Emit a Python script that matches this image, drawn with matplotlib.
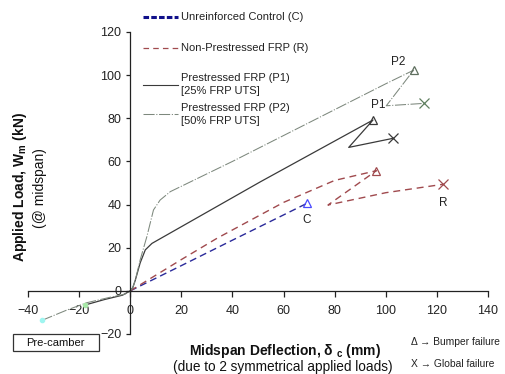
import matplotlib
matplotlib.use("Agg")
import matplotlib.pyplot as plt
from matplotlib.lines import Line2D
from matplotlib.patches import Rectangle

plt.rcParams['font.family'] = ['Liberation Sans', 'DejaVu Sans']
plt.rcParams['lines.scale_dashes'] = False

# Control beam (C)
c_x = [0, 20, 40, 60, 69.2]
c_y = [0, 11.7, 23.5, 35.2, 40.6]

# Non-prestressed FRP (R): loading to bumper failure, then to global failure
r_x = [0, 20, 34, 60, 80, 96.3, 77.4, 100, 122.4]
r_y = [0, 14.5, 24.4, 41, 51.2, 55.7, 39.8, 45.5, 49.4]

# Prestressed FRP P1 (25% UTS), starting from pre-camber
p1_x = [-17.5, -10, -3, 0, 1, 2, 3.9, 5.9, 8.5, 51, 95, 85.5, 102.8]
p1_y = [-6.5, -4, -2, 0, 1.5, 5, 13, 19, 22, 50.6, 79.2, 66.5, 70.7]

# Prestressed FRP P2 (50% UTS), starting from pre-camber
p2_x = [-34.6, -25, -17, -8, -2, 0, 1, 2, 3.9, 6.5, 9.1, 11.7, 15.7, 40, 70, 100, 110.9, 100.2, 114.8]
p2_y = [-13.7, -9, -5.5, -3, -1.5, 0, 1.5, 5, 14.4, 25.1, 37.5, 42.1, 46, 60, 78, 96, 102.3, 85.8, 86.9]

xticks = [-40, -20, 0, 20, 40, 60, 80, 100, 120, 140]
yticks = [-20, 0, 20, 40, 60, 80, 100, 120]

W, H = 506, 374
fig = plt.figure(figsize=(W / 100, H / 100), dpi=100)
ax = fig.add_axes([28 / W, 1 - 334 / H, 460 / W, 302 / H])
ax.set_xlim(-40, 140)
ax.set_ylim(-20, 120)

c_col = '#2a2a9a'
r_col = '#a04a4e'
p1_col = '#3a3a3a'
p2_col = '#7d887d'

# curves
ax.plot(c_x, c_y, color=c_col, lw=1.0, dashes=(5, 3))
ax.plot(r_x, r_y, color=r_col, lw=1.0, dashes=(5, 3.5))
ax.plot(p1_x, p1_y, color=p1_col, lw=0.9)
ax.plot(p2_x, p2_y, color=p2_col, lw=0.75, dashes=(8, 1.2, 0.8, 1.2))

# bumper failure (triangles) and global failure (crosses)
ax.plot(c_x[-1], c_y[-1], marker='^', ms=6, mfc='none', mec='#4a4aff', mew=0.9)
ax.plot(r_x[5], r_y[5], marker='^', ms=6, mfc='none', mec=r_col, mew=0.9)
ax.plot(r_x[-1], r_y[-1], marker='x', ms=7, mec=r_col, mew=0.9)
ax.plot(p1_x[10], p1_y[10], marker='^', ms=6, mfc='none', mec=p1_col, mew=0.9)
ax.plot(p1_x[-1], p1_y[-1], marker='x', ms=7, mec=p1_col, mew=0.9)
ax.plot(p2_x[16], p2_y[16], marker='^', ms=6, mfc='none', mec='#5f6f5f', mew=0.9)
ax.plot(p2_x[-1], p2_y[-1], marker='x', ms=7, mec='#5f7f5f', mew=0.9)
# pre-camber start points
ax.plot(p2_x[0], p2_y[0], marker='o', ms=3, mfc='#9ff5f0', mec='#9ff5f0')
ax.plot(p1_x[0], p1_y[0], marker='o', ms=3, mfc='#a8e8a8', mec='#a8e8a8')

# point labels
ax.text(105, 106.2, 'P2', fontsize=8.5, ha='center', va='center', color='#222222')
ax.text(99.8, 86.1, 'P1', fontsize=8.5, ha='right', va='center', color='#222222')
ax.text(69.2, 32.9, 'C', fontsize=8.5, ha='center', va='center', color='#222222')
ax.text(122.4, 40.9, 'R', fontsize=8.5, ha='center', va='center', color='#222222')

# spines through origin
for s in ['top', 'right']:
    ax.spines[s].set_visible(False)
ax.spines['left'].set_position(('data', 0))
ax.spines['bottom'].set_position(('data', 0))
for s in ['left', 'bottom']:
    ax.spines[s].set_linewidth(0.9)
    ax.spines[s].set_color('#222222')
ax.set_xticks(xticks)
ax.set_yticks(yticks)
ax.tick_params(axis='x', direction='out', length=4, width=0.9, pad=6, labelsize=9, colors='#222222')
ax.tick_params(axis='y', direction='out', length=3, width=0.9, pad=3.5, labelsize=9, colors='#222222')
ax.patch.set_alpha(0)


def fx(px):
    return px / W


def fy(py):
    return 1 - py / H


# legend drawn by hand
leg = [
    (16.7, dict(color='#10108a', lw=2.2, dashes=(4, 1.6))),
    (48.0, dict(color=r_col, lw=0.9, dashes=(4, 3))),
    (84.5, dict(color=p1_col, lw=0.8)),
    (113.5, dict(color=p2_col, lw=0.75, dashes=(8, 1.2, 0.8, 1.2))),
]
for py, kw in leg:
    fig.add_artist(Line2D([fx(143), fx(178)], [fy(py), fy(py)], transform=fig.transFigure, **kw))
leg_txt = [
    (16.7, 'Unreinforced Control (C)'),
    (48.0, 'Non-Prestressed FRP (R)'),
    (78.3, 'Prestressed FRP (P1)'),
    (90.7, '[25% FRP UTS]'),
    (108.3, 'Prestressed FRP (P2)'),
    (120.7, '[50% FRP UTS]'),
]
for py, t in leg_txt:
    fig.text(fx(181), fy(py), t, fontsize=8, ha='left', va='center', color='#222222')

# axis titles
fig.text(fx(285), fy(351), r'Midspan Deflection, δ $_\mathregular{c}$ (mm)', fontsize=10,
         fontweight='bold', ha='center', va='center', color='#111111')
fig.text(fx(283), fy(366.5), '(due to 2 symmetrical applied loads)', fontsize=9.8,
         ha='center', va='center', color='#111111')
fig.text(fx(20), fy(187), r'Applied Load, W$_\mathregular{m}$ (kN)', fontsize=10,
         fontweight='bold', rotation=90, ha='center', va='center', color='#111111')
fig.text(fx(40), fy(188), '(@ midspan)', fontsize=10, rotation=90,
         ha='center', va='center', color='#111111')

# pre-camber box
fig.add_artist(Rectangle((fx(12.7), fy(351.3)), fx(98.7) - fx(12.7), fy(334) - fy(351.3),
                         transform=fig.transFigure, fill=False, lw=0.9, ec='#333333'))
fig.text(fx(55.5), fy(342.6), 'Pre-camber', fontsize=8, ha='center', va='center', color='#111111')

# failure key
fig.text(fx(411), fy(341.7), 'Δ → Bumper failure', fontsize=7.4, ha='left', va='center', color='#222222')
fig.text(fx(411), fy(364), 'X → Global failure', fontsize=7.4, ha='left', va='center', color='#222222')

fig.savefig('out.png', dpi=100)
